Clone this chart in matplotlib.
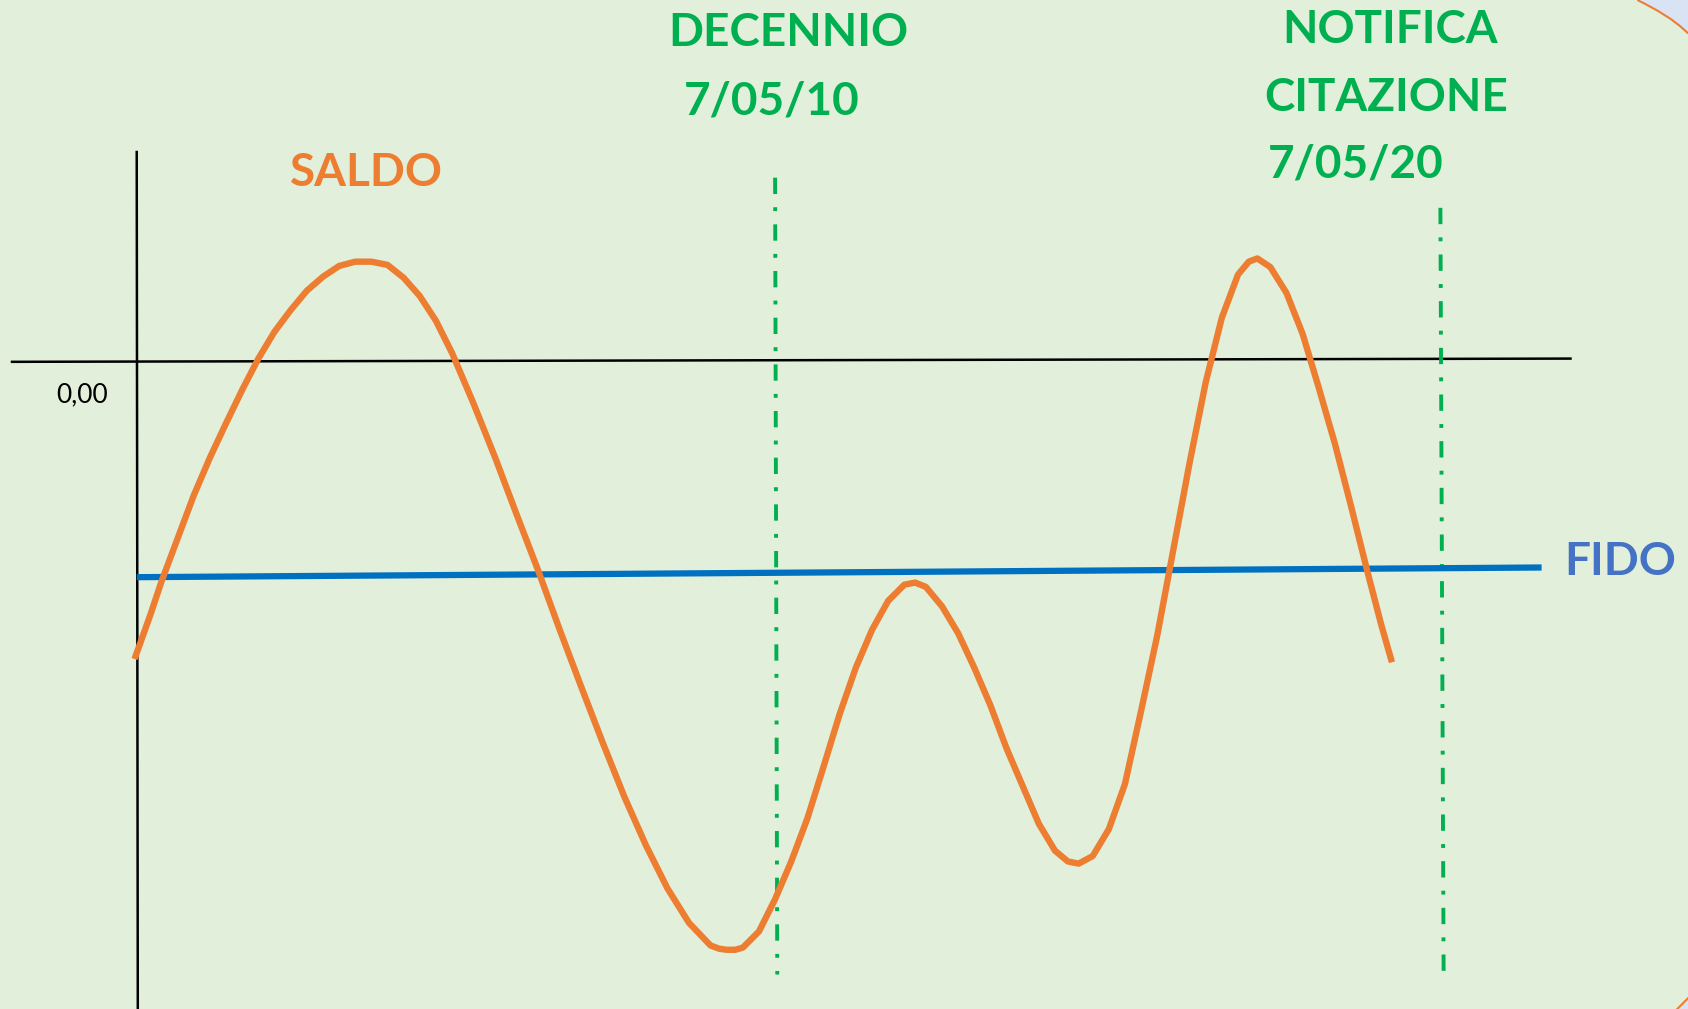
import matplotlib
matplotlib.use("Agg")
import matplotlib.pyplot as plt
from matplotlib.patches import PathPatch
from matplotlib.path import Path

# ---- data (chart units: origin at axes crossing, y up) ----
saldo_x = [-2, 13, 23, 38, 53, 68, 83, 98, 113, 128, 143, 158, 173, 188, 203, 218, 233,
           248, 263, 278, 293, 313, 333, 353, 373, 393, 413, 433, 453, 473, 493, 513,
           533, 541, 548, 556, 563, 578, 593, 608, 623, 638, 653, 668, 683, 698, 713, 723, 733,
           748, 763, 778, 793, 808, 823, 838, 853, 865, 875, 888, 903, 918, 933, 948,
           963, 978, 993, 1008, 1023, 1033, 1041, 1053, 1068, 1083, 1098, 1113, 1128,
           1143, 1156, 1166]
saldo_y = [-276, -234, -204, -164, -124, -89, -57, -26, 3, 28, 48, 66, 79, 89, 93, 93,
           90, 78, 61, 38, 8, -39, -89, -142, -194, -249, -302, -354, -404, -449, -489,
           -521, -542, -545, -546, -546, -544, -529, -499, -464, -424, -376, -327, -284, -249, -222,
           -207, -205, -209, -227, -252, -284, -319, -359, -394, -429, -454, -464, -466,
           -459, -434, -392, -324, -254, -174, -94, -19, 41, 81, 93, 96, 88, 64, 26,
           -24, -76, -134, -194, -244, -279]

fido_x = [0, 1305]
fido_y = [-200, -191]

asse_x_x = [-117, 1333]
asse_x_y = [0, 3]
asse_y_x = [0, 1]
asse_y_y = [196, -601]

decennio_x = [593, 595]
notifica_x = [1211, 1214]
verticali_y_top = [171, 143]
verticali_y_bot = -569

labels = {
    "saldo": "SALDO",
    "fido": "FIDO",
    "zero": "0,00",
    "decennio": ["DECENNIO", "7/05/10"],
    "notifica": ["NOTIFICA", "CITAZIONE", "7/05/20"],
}

BG = "#E2EFDA"
ORANGE = "#ED7D31"
GREEN = "#00B050"
BLUE_LINE = "#0070C0"
BLUE_TXT = "#4472C4"

fig = plt.figure(figsize=(16.88, 10.09), dpi=100)
fig.patch.set_facecolor(BG)
ax = fig.add_axes([0, 0, 1, 1])
ax.set_facecolor(BG)
ax.set_xlim(-127, 1441)
ax.set_ylim(-601, 336)
ax.axis("off")

# corner decorations (rounded slide frame)
tr = Path([(1394, 336), (1412, 327), (1428, 318), (1441, 305), (1441, 336), (1394, 336)],
          [Path.MOVETO, Path.CURVE4, Path.CURVE4, Path.CURVE4, Path.LINETO, Path.CLOSEPOLY])
ax.add_patch(PathPatch(tr, facecolor="#DAE3F3", edgecolor="none", clip_on=False, zorder=0))
arc = Path([(1394, 336), (1412, 327), (1428, 318), (1441, 305)],
           [Path.MOVETO, Path.CURVE4, Path.CURVE4, Path.CURVE4])
ax.add_patch(PathPatch(arc, facecolor="none", edgecolor=ORANGE, lw=1.5, zorder=1))
br = Path([(1431, -601), (1441, -591), (1441, -601), (1431, -601)],
          [Path.MOVETO, Path.LINETO, Path.LINETO, Path.CLOSEPOLY])
ax.add_patch(PathPatch(br, facecolor="#DAE3F3", edgecolor="none", clip_on=False, zorder=0))
ax.plot([1431, 1441], [-601, -591], color=ORANGE, lw=1.5)

# axes lines
ax.plot(asse_x_x, asse_x_y, color="black", lw=1.8, solid_capstyle="butt")
ax.plot(asse_y_x, asse_y_y, color="black", lw=1.8, solid_capstyle="butt")

# green dash-dot verticals
for xv, yt in zip([decennio_x, notifica_x], verticali_y_top):
    ax.plot(xv, [yt, verticali_y_bot], color=GREEN, lw=2.8,
            dashes=(4.2, 3.4, 1.0, 3.4), dash_capstyle="butt")

# FIDO line
ax.plot(fido_x, fido_y, color=BLUE_LINE, lw=4.5, solid_capstyle="butt")

# SALDO curve
ax.plot(saldo_x, saldo_y, color=ORANGE, lw=4.6, solid_capstyle="butt",
        solid_joinstyle="round")

fam = ["Lato", "DejaVu Sans"]
fs = 33
ax.text(213, 175, labels["saldo"], color=ORANGE, fontsize=fs, fontweight="bold",
        family=fam, ha="center", va="center")
ax.text(605, 305, labels["decennio"][0], color=GREEN, fontsize=fs, fontweight="bold",
        family=fam, ha="center", va="center")
ax.text(590, 242, labels["decennio"][1], color=GREEN, fontsize=fs, fontweight="bold",
        family=fam, ha="center", va="center")
ax.text(1164, 308, labels["notifica"][0], color=GREEN, fontsize=fs, fontweight="bold",
        family=fam, ha="center", va="center")
ax.text(1161, 245, labels["notifica"][1], color=GREEN, fontsize=fs, fontweight="bold",
        family=fam, ha="center", va="center")
ax.text(1051, 183, labels["notifica"][2], color=GREEN, fontsize=fs, fontweight="bold",
        family=fam, ha="left", va="center")
ax.text(1326, -186, labels["fido"], color=BLUE_TXT, fontsize=fs, fontweight="bold",
        family=fam, ha="left", va="center")
ax.text(-27, -31, labels["zero"], color="black", fontsize=19,
        family=fam, ha="right", va="center")

fig.savefig("out.png", dpi=100, facecolor=BG)
